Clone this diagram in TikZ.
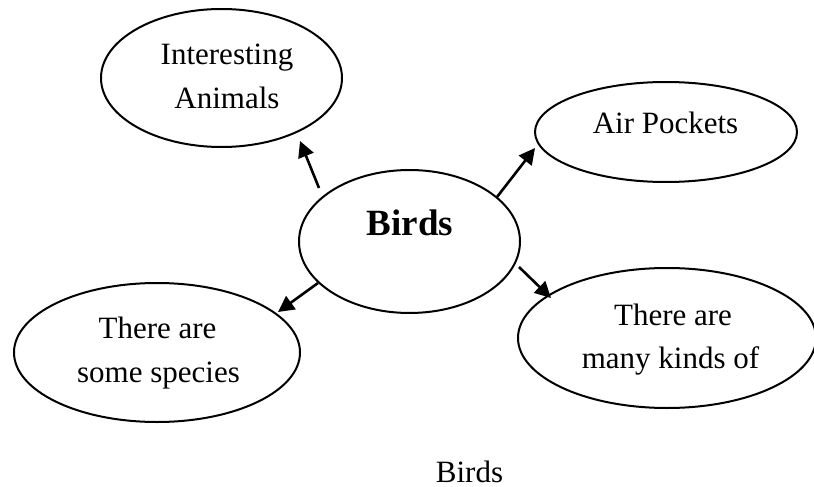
\documentclass[tikz,border=0pt]{standalone}
\usepackage{fontspec}
\setmainfont{Liberation Serif}
\usetikzlibrary{shapes.geometric,arrows.meta}
\tikzset{
  bubble/.style={draw, shape=ellipse, line width=2pt, inner sep=0pt},
  txt/.style={inner sep=0pt, anchor=base, font=\fontsize{31}{43}\selectfont},
  bigtxt/.style={inner sep=0pt, anchor=base, font=\fontsize{37}{44}\selectfont\bfseries},
  arr/.style={line width=2.6pt, -{Triangle[length=16pt,width=16pt]}}
}
\begin{document}
\begin{tikzpicture}[x=1pt,y=-1pt]
\useasboundingbox (0,0) rectangle (814,487);
% ellipses
\node[bubble, minimum width=221pt, minimum height=143pt] (birds) at (409.5,241.5) {};
\node[bubble, minimum width=241pt, minimum height=138pt] (inter) at (221.5,78) {};
\node[bubble, minimum width=262pt, minimum height=100pt] (air) at (666,132) {};
\node[bubble, minimum width=286pt, minimum height=139pt] (some) at (157,352.5) {};
\node[bubble, minimum width=298pt, minimum height=140pt] (many) at (667,338) {};
% texts
\node[bigtxt] (tbirds) at (410,235) {Birds};
\node[txt] (tint1) at (227,65) {Interesting};
\node[txt] (tint2) at (227,108) {Animals};
\node[txt] (tair) at (665.5,133) {Air Pockets};
\node[txt] (tsome1) at (157.5,338) {There are};
\node[txt] (tsome2) at (158.5,382) {some species};
\node[txt] (tmany1) at (673,325) {There are};
\node[txt] (tmany2) at (670.5,368) {many kinds of};
\node[txt] (caption) at (469.5,482) {Birds};
% connector ends
\coordinate (s1) at (319,188);
\coordinate (e1) at (300,141);
\coordinate (s2) at (497,197);
\coordinate (e2) at (535,148);
\coordinate (s3) at (519,267);
\coordinate (e3) at (551,298);
\coordinate (s4) at (318,283);
\coordinate (e4) at (278,312);
\draw[arr] (s1) -- (e1);
\draw[arr] (s2) -- (e2);
\draw[arr] (s3) -- (e3);
\draw[arr] (s4) -- (e4);
\end{tikzpicture}
\end{document}
